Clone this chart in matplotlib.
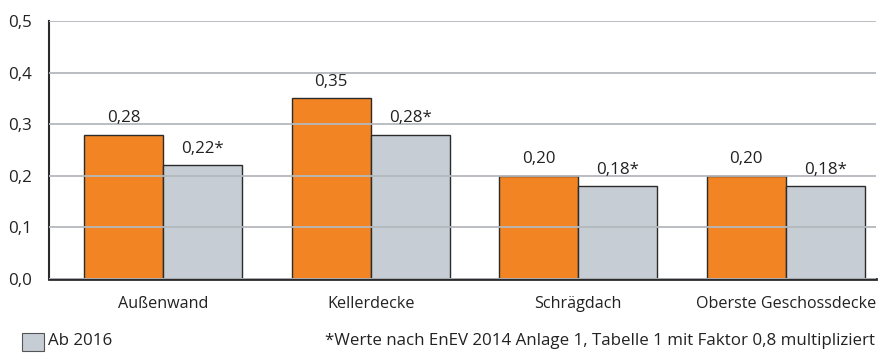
import numpy as np
import matplotlib.pyplot as plt
from matplotlib.patches import Rectangle
from matplotlib.ticker import FuncFormatter

plt.rcParams['font.family'] = ['Open Sans', 'DejaVu Sans']

# U-Werte in W/(m²K)
bauteile = ["Außenwand", "Kellerdecke", "Schrägdach", "Oberste Geschossdecke"]
werte_2014 = [0.28, 0.35, 0.20, 0.20]
werte_2016 = [0.22, 0.28, 0.18, 0.18]
labels_2014 = ["0,28", "0,35", "0,20", "0,20"]
labels_2016 = ["0,22*", "0,28*", "0,18*", "0,18*"]
yticks = [0.0, 0.1, 0.2, 0.3, 0.4, 0.5]

orange = "#F28423"
grau = "#C6CDD4"
kante = "#2b2b2b"
fs = 12.2

fig = plt.figure(figsize=(8.8, 3.53), dpi=100)
ax = fig.add_axes([0.0557, 0.2096, 0.9398, 0.7309])

x = np.arange(len(bauteile))
w = 0.38
b1 = ax.bar(x - w / 2, werte_2014, w, color=orange, edgecolor=kante, linewidth=1.0, zorder=1)
b2 = ax.bar(x + w / 2, werte_2016, w, color=grau, edgecolor=kante, linewidth=1.0, zorder=1)

for rect, txt in zip(b1, labels_2014):
    ax.annotate(txt, (rect.get_x() + rect.get_width() / 2, rect.get_height()),
                xytext=(0, 6), textcoords="offset points", ha="center", va="bottom",
                fontsize=fs, color="#222222")
for rect, txt in zip(b2, labels_2016):
    ax.annotate(txt, (rect.get_x() + rect.get_width() / 2, rect.get_height()),
                xytext=(0, 6), textcoords="offset points", ha="center", va="bottom",
                fontsize=fs, color="#222222")

ax.set_xlim(-0.55, 3.435)
ax.set_ylim(0, 0.5)
ax.set_yticks(yticks)
ax.yaxis.set_major_formatter(FuncFormatter(lambda v, p: f"{v:.1f}".replace(".", ",")))
ax.set_xticks(x)
ax.set_xticklabels(bauteile)
ax.tick_params(axis="both", length=0, labelsize=fs, colors="#222222")
ax.tick_params(axis="x", labelsize=11.6, pad=12)
ax.tick_params(axis="y", pad=12)

# Gitterlinien liegen über den Balken
ax.grid(axis="y", color="#B4B8BC", linewidth=1.3, zorder=2)
ax.set_axisbelow(False)
for s in ["top", "right"]:
    ax.spines[s].set_visible(False)
ax.spines["left"].set_color(kante)
ax.spines["left"].set_linewidth(1.5)
ax.spines["bottom"].set_color(kante)
ax.spines["bottom"].set_linewidth(2)

# Legende und Fußnote
fig.patches.append(Rectangle((22 / 880, 2 / 353), 22 / 880, 18 / 353, transform=fig.transFigure,
                             facecolor=grau, edgecolor="#555555", linewidth=0.8))
fig.text(48 / 880, 12 / 353, "Ab 2016", fontsize=fs, va="center", ha="left", color="#222222")
fig.text(875 / 880, 12 / 353, "*Werte nach EnEV 2014 Anlage 1, Tabelle 1 mit Faktor 0,8 multipliziert",
         fontsize=fs, va="center", ha="right", color="#222222")

fig.savefig("out.png", dpi=100)
